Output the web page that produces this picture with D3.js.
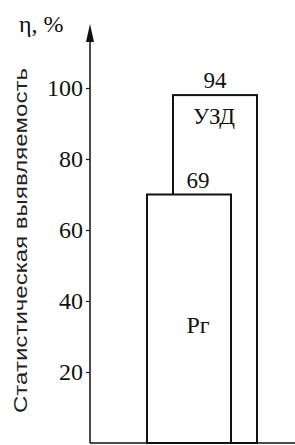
<!DOCTYPE html>
<html>
<head>
<meta charset="utf-8">
<title>Detection rate: Рг vs УЗД</title>
<script src="https://cdn.jsdelivr.net/npm/d3@7"></script>
</head>
<body style="margin:0">
<svg id="chart" width="295" height="445"></svg>
<script>
// Bar chart: statistical detection rate, X-ray (Рг) vs ultrasound (УЗД)
const categories = ["УЗД", "Рг"];
const barHeights = [98, 70];        // drawn heights, %
const valueLabels = ["94", "69"];   // printed values
const yTicks = [20, 40, 60, 80, 100];

const SERIF = '"Liberation Serif"';
const SANS = '"Liberation Sans"';

const svg = d3.select("#chart");
const width = +svg.attr("width");
const height = +svg.attr("height");

const axisX = 90;
const baseY = 443;

const y = d3.scaleLinear().domain([0, 100]).range([baseY, 88]);

// bands overlap: step smaller than bar width
const x = d3.scaleBand().domain(["Рг", "УЗД"]).range([147, 199]).padding(0);
const barWidth = 84;

svg.append("rect").attr("width", width).attr("height", height).attr("fill", "#fff");

// bars (УЗД behind, Рг in front)
const bars = categories.map((c, i) => ({ name: c, h: barHeights[i], label: valueLabels[i] }));

svg.append("g")
  .selectAll("rect")
  .data(bars)
  .join("rect")
  .attr("x", (d) => x(d.name))
  .attr("y", (d) => y(d.h))
  .attr("width", barWidth)
  .attr("height", (d) => baseY - y(d.h))
  .attr("fill", "#fff")
  .attr("stroke", "#111")
  .attr("stroke-width", 2);

// value labels above bars
const labelShift = { "Рг": 9, "УЗД": 0 };
svg.append("g")
  .selectAll("text")
  .data(bars)
  .join("text")
  .style("font-family", SERIF)
  .style("font-size", "23px")
  .attr("fill", "#111")
  .attr("text-anchor", "middle")
  .attr("x", (d) => x(d.name) + barWidth / 2 + labelShift[d.name])
  .attr("y", (d) => y(d.h) - 7)
  .text((d) => d.label);

// names inside bars
svg.append("text")
  .attr("x", x("УЗД") + barWidth / 2 - 1)
  .attr("y", y(barHeights[0]) + 29)
  .attr("text-anchor", "middle")
  .style("font-family", SERIF)
  .style("font-size", "23px")
  .attr("fill", "#111")
  .text("УЗД");

svg.append("text")
  .attr("x", x("Рг") + barWidth / 2 + labelShift["Рг"])
  .attr("y", y(31))
  .attr("text-anchor", "middle")
  .style("font-family", SERIF)
  .style("font-size", "24px")
  .attr("fill", "#111")
  .text("Рг");

// baseline
svg.append("line")
  .attr("x1", axisX).attr("x2", width)
  .attr("y1", baseY).attr("y2", baseY)
  .attr("stroke", "#111").attr("stroke-width", 1.5);

// y axis with arrow
svg.append("line")
  .attr("x1", axisX).attr("x2", axisX)
  .attr("y1", 36).attr("y2", baseY)
  .attr("stroke", "#111").attr("stroke-width", 1.5);

svg.append("path")
  .attr("d", `M${axisX},24 L${axisX - 4},42 L${axisX + 4},42 Z`)
  .attr("fill", "#111");

const yAxis = d3.axisLeft(y).tickValues(yTicks).tickSize(4).tickPadding(3);
const gy = svg.append("g").attr("transform", `translate(${axisX},0)`).call(yAxis);
gy.select(".domain").remove();
gy.selectAll(".tick line").attr("stroke", "#111").attr("stroke-width", 1.2);
gy.selectAll(".tick text")
  .style("font-family", SERIF)
  .style("font-size", "24px")
  .attr("fill", "#111");

// axis title
svg.append("text")
  .attr("x", 19)
  .attr("y", 32)
  .style("font-family", SERIF)
  .style("font-size", "24px")
  .attr("fill", "#111")
  .text("η, %");

// rotated y label
svg.append("text")
  .attr("transform", `translate(27,${(68 + 413) / 2}) rotate(-90)`)
  .attr("text-anchor", "middle")
  .style("font-family", SANS)
  .style("font-size", "19px")
  .attr("fill", "#222")
  .attr("textLength", 345)
  .attr("lengthAdjust", "spacingAndGlyphs")
  .text("Статистическая выявляемость");
</script>
</body>
</html>
